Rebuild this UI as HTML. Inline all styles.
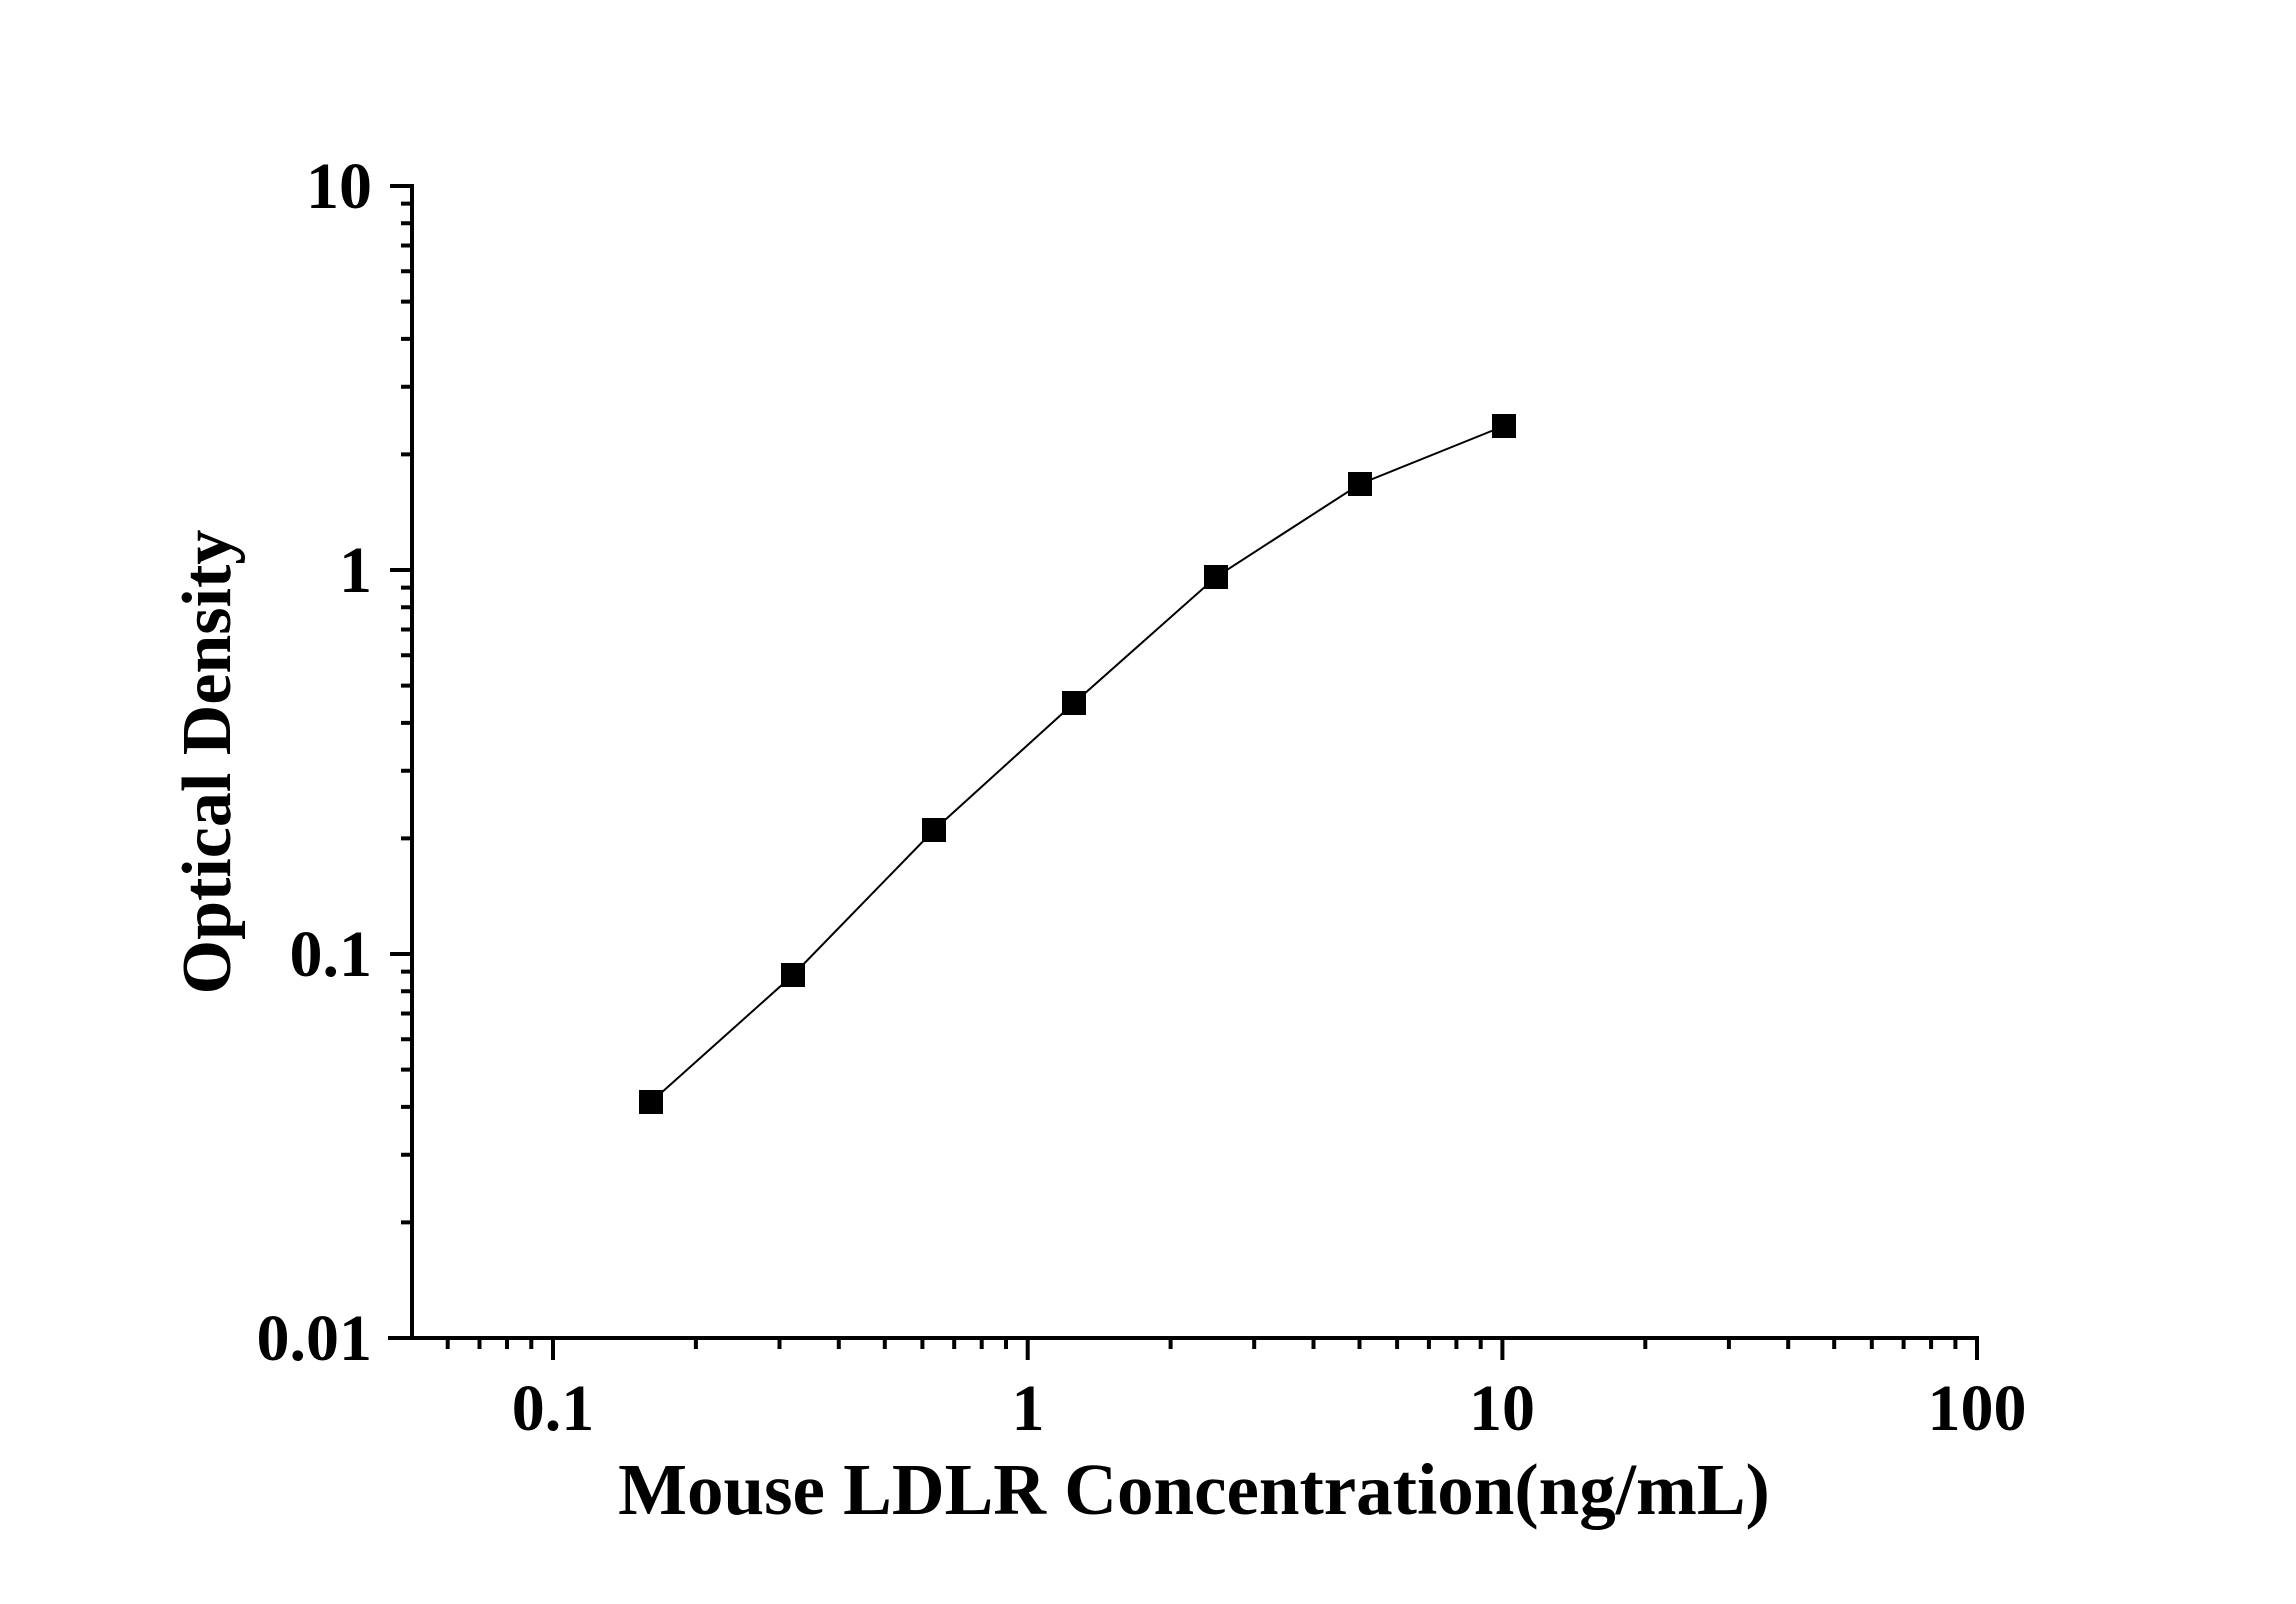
<!DOCTYPE html>
<html><head><style>body{margin:0;background:#fff}svg{display:block}</style></head><body>
<svg width="2296" height="1604" xmlns="http://www.w3.org/2000/svg" font-family="Liberation Serif, serif" font-weight="bold">
<g stroke="#000" stroke-width="4" fill="none">
<line x1="412" y1="184" x2="412" y2="1340"/>
<line x1="388" y1="1338" x2="1979" y2="1338"/>
<path d="M390 186H412M390 570H412M390 954H412M390 1338H412
M401 454.4H412M401 386.8H412M401 338.9H412M401 301.6H412M401 271.2H412M401 245.5H412M401 223.2H412M401 203.6H412
M401 838.4H412M401 770.8H412M401 722.9H412M401 685.6H412M401 655.2H412M401 629.5H412M401 607.2H412M401 587.6H412
M401 1222.4H412M401 1154.8H412M401 1106.9H412M401 1069.6H412M401 1039.2H412M401 1013.5H412M401 991.2H412M401 971.6H412"/>
<path d="M553 1338V1360M1027.7 1338V1360M1502.4 1338V1360M1977 1338V1360
M447.7 1338V1349M479.5 1338V1349M507 1338V1349M531.3 1338V1349
M695.9 1338V1349M779.5 1338V1349M838.8 1338V1349M884.8 1338V1349M922.4 1338V1349M954.2 1338V1349M981.7 1338V1349M1006 1338V1349
M1170.6 1338V1349M1254.2 1338V1349M1313.5 1338V1349M1359.5 1338V1349M1397.1 1338V1349M1428.9 1338V1349M1456.4 1338V1349M1480.7 1338V1349
M1645.3 1338V1349M1728.9 1338V1349M1788.2 1338V1349M1834.2 1338V1349M1871.8 1338V1349M1903.6 1338V1349M1931.1 1338V1349M1955.4 1338V1349"/>
</g>
<polyline fill="none" stroke="#000" stroke-width="2" points="651,1102 793,975 934,830 1074,703 1216,577 1360,484 1504,426"/>
<g fill="#000">
<rect x="639" y="1090" width="24" height="24"/><rect x="781" y="963" width="24" height="24"/><rect x="922" y="818" width="24" height="24"/><rect x="1062" y="691" width="24" height="24"/><rect x="1204" y="565" width="24" height="24"/><rect x="1348" y="472" width="24" height="24"/><rect x="1492" y="414" width="24" height="24"/>
</g>
<g font-size="66" text-anchor="end">
<text x="372" y="208">10</text><text x="372" y="592">1</text><text x="372" y="976">0.1</text><text x="372" y="1360">0.01</text>
</g>
<g font-size="66" text-anchor="middle">
<text x="553" y="1430">0.1</text><text x="1028" y="1430">1</text><text x="1502" y="1430">10</text><text x="1977" y="1430">100</text>
</g>
<text x="1194" y="1514" font-size="73" text-anchor="middle">Mouse LDLR Concentration(ng/mL)</text>
<text transform="translate(230,762) rotate(-90)" font-size="70" text-anchor="middle">Optical Density</text>
</svg>
</body></html>
